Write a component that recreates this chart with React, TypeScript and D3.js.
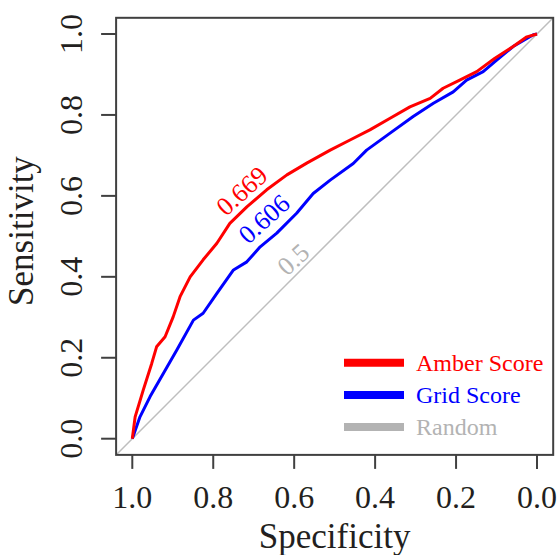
import React from 'react';
import * as d3 from 'd3';

// ROC points: [specificity, sensitivity]
const amber_points: [number, number][] = [
  [1.0, 0.0], [0.993, 0.054], [0.973, 0.12], [0.952, 0.186], [0.94, 0.227],
  [0.919, 0.252], [0.899, 0.301], [0.882, 0.351], [0.857, 0.4], [0.825, 0.442],
  [0.791, 0.483], [0.759, 0.532], [0.717, 0.573], [0.668, 0.615], [0.618, 0.652],
  [0.569, 0.681], [0.511, 0.713], [0.462, 0.738], [0.413, 0.763], [0.363, 0.792],
  [0.314, 0.82], [0.264, 0.841], [0.232, 0.866], [0.191, 0.886], [0.149, 0.907],
  [0.104, 0.94], [0.059, 0.969], [0.025, 0.993], [0.0, 1.0],
];

const grid_points: [number, number][] = [
  [1.0, 0.0], [0.981, 0.054], [0.956, 0.104], [0.923, 0.162], [0.89, 0.219],
  [0.849, 0.293], [0.825, 0.31], [0.791, 0.359], [0.75, 0.417], [0.717, 0.437],
  [0.684, 0.474], [0.643, 0.508], [0.594, 0.557], [0.553, 0.606], [0.511, 0.639],
  [0.454, 0.68], [0.421, 0.713], [0.363, 0.755], [0.306, 0.796], [0.256, 0.829],
  [0.207, 0.857], [0.174, 0.886], [0.133, 0.907], [0.104, 0.932], [0.059, 0.969],
  [0.009, 0.998], [0.0, 1.0],
];

const tick_values = [1.0, 0.8, 0.6, 0.4, 0.2, 0.0];
const tick_labels = ['1.0', '0.8', '0.6', '0.4', '0.2', '0.0'];

const series_names = ['Amber Score', 'Grid Score', 'Random'];
const series_colors = ['#ff0000', '#0000ff', '#b3b3b3'];

// AUC labels: [text, specificity, sensitivity]
const auc_labels: [string, number, number][] = [
  ['0.669', 0.73, 0.613],
  ['0.606', 0.675, 0.544],
  ['0.5', 0.603, 0.444],
];

const FONT = '"Liberation Serif", "Times New Roman", serif';
const TEXT = '#231f20';
const AXIS = '#404040';

export default function App() {
  const width = 559;
  const height = 555;

  // scales (plot region extends 4% beyond data range, as R does)
  const x = d3.scaleLinear().domain([1, 0]).range([132.3, 537]);
  const y = d3.scaleLinear().domain([0, 1]).range([438.7, 34]);
  const box = { left: x(1.04), right: x(-0.04), top: y(1.04), bottom: y(-0.04) };

  const line = d3
    .line<[number, number]>()
    .x((d) => x(d[0]))
    .y((d) => y(d[1]));

  const legend_y = [362.7, 395, 427];

  return (
    <svg
      width={width}
      height={height}
      style={{ position: 'absolute', left: 0, top: 0, background: '#fff' }}
      fontFamily={FONT}
    >
      <defs>
        <clipPath id="plot-clip">
          <rect x={box.left} y={box.top} width={box.right - box.left} height={box.bottom - box.top} />
        </clipPath>
      </defs>

      {/* random diagonal */}
      <line
        x1={x(1.05)}
        y1={y(-0.05)}
        x2={x(-0.05)}
        y2={y(1.05)}
        stroke="#bebebe"
        strokeWidth={1.5}
        clipPath="url(#plot-clip)"
      />

      <path d={line(grid_points) || ''} fill="none" stroke={series_colors[1]} strokeWidth={3} strokeLinejoin="round" />
      <path d={line(amber_points) || ''} fill="none" stroke={series_colors[0]} strokeWidth={3} strokeLinejoin="round" />

      {/* AUC labels along curves */}
      {auc_labels.map(([t, sx, sy], i) => (
        <text
          key={t}
          x={x(sx)}
          y={y(sy)}
          dy="0.35em"
          textAnchor="middle"
          fontSize={26}
          fill={series_colors[i] === '#b3b3b3' ? '#b3b3b3' : series_colors[i]}
          transform={`rotate(-42, ${x(sx)}, ${y(sy)})`}
        >
          {t}
        </text>
      ))}

      {/* box */}
      <rect
        x={box.left}
        y={box.top}
        width={box.right - box.left}
        height={box.bottom - box.top}
        fill="none"
        stroke={AXIS}
        strokeWidth={2}
      />

      {/* x axis */}
      {tick_values.map((v, i) => (
        <g key={'x' + v}>
          <line x1={x(v)} x2={x(v)} y1={box.bottom} y2={box.bottom + 14} stroke={AXIS} strokeWidth={2} />
          <text x={x(v)} y={508} textAnchor="middle" fontSize={32} fill={TEXT}>
            {tick_labels[i]}
          </text>
        </g>
      ))}
      <text x={(x(1) + x(0)) / 2} y={548} textAnchor="middle" fontSize={35} fill={TEXT}>
        Specificity
      </text>

      {/* y axis */}
      {tick_values.map((v, i) => (
        <g key={'y' + v}>
          <line x1={box.left - 15} x2={box.left} y1={y(v)} y2={y(v)} stroke={AXIS} strokeWidth={2} />
          <text
            x={82}
            y={y(v)}
            textAnchor="middle"
            fontSize={32}
            fill={TEXT}
            transform={`rotate(-90, 82, ${y(v)})`}
          >
            {tick_labels[i]}
          </text>
        </g>
      ))}
      <text
        x={33}
        y={231}
        textAnchor="middle"
        fontSize={35}
        fill={TEXT}
        transform="rotate(-90, 33, 231)"
      >
        Sensitivity
      </text>

      {/* legend */}
      {series_names.map((name, i) => (
        <g key={name}>
          <line x1={344} x2={404} y1={legend_y[i]} y2={legend_y[i]} stroke={series_colors[i]} strokeWidth={8} />
          <text x={416} y={legend_y[i] + 8} fontSize={24} fill={series_colors[i]}>
            {name}
          </text>
        </g>
      ))}
    </svg>
  );
}
